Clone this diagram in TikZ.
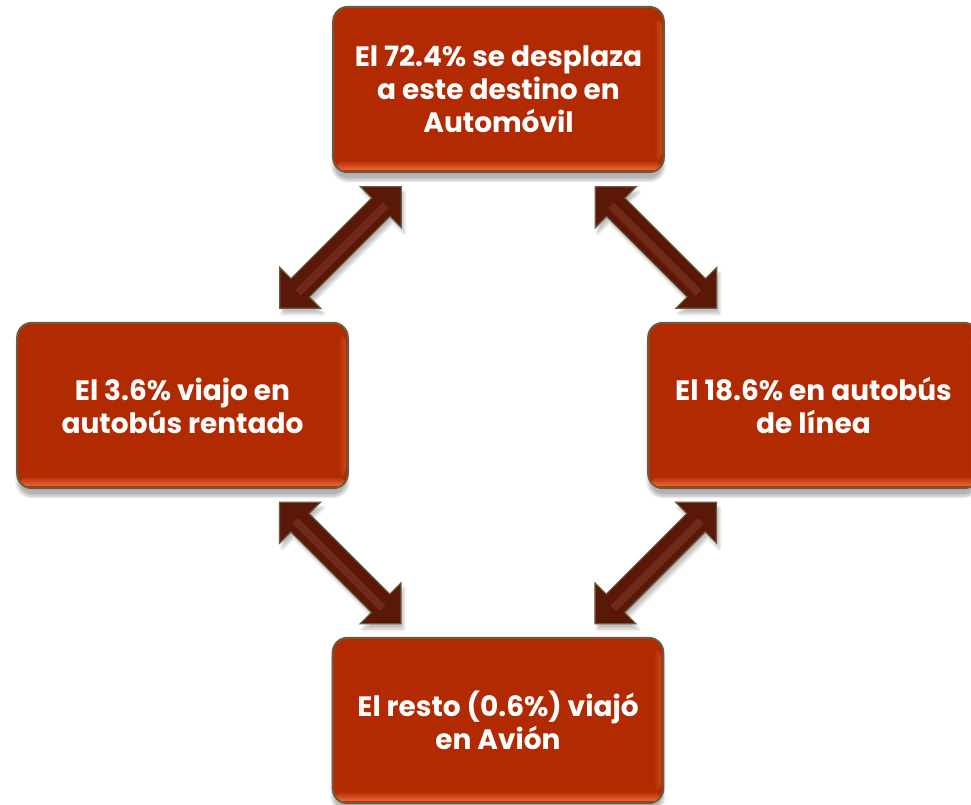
\documentclass[tikz,border=0pt]{standalone}
\usepackage{fontspec}
\setmainfont{Poppins}
\usetikzlibrary{calc,shadows.blur}
\definecolor{boxred}{HTML}{B22A02}
\definecolor{boxedge}{HTML}{6B5B3E}
\definecolor{arrbrown}{HTML}{5A1808}
\definecolor{arrlight}{HTML}{85382A}
\definecolor{glow}{HTML}{EC6A36}
\tikzset{
  modebox/.style={rounded corners=11pt,draw=boxedge,line width=1.5pt,fill=boxred,
    minimum width=248pt,minimum height=124pt,align=center,
    text=white,font=\bfseries\fontsize{21}{24.75}\selectfont,
    blur shadow={shadow xshift=0pt,shadow yshift=-6pt,shadow blur steps=8,shadow opacity=30}},
  arrowshape/.style={draw=boxedge,line width=0.9pt,fill=arrbrown,line join=miter,
    blur shadow={shadow xshift=2pt,shadow yshift=-4pt,shadow blur steps=6,shadow opacity=25}},
  dblarrow/.pic={
    \path[arrowshape] (-86,0) -- (-57,-29) -- (-57,-13) -- (57,-13) -- (57,-29)
      -- (86,0) -- (57,29) -- (57,13) -- (-57,13) -- (-57,29) -- cycle;
    \fill[arrlight,opacity=0.55] (-62,-2) rectangle (62,6);
  }
}
\begin{document}
\begin{tikzpicture}[x=0.75pt,y=-0.75pt]
\useasboundingbox (0,0) rectangle (971,804);
\node[modebox] (auto) at (498.5,89.5) {El 72.4\% se desplaza\\a este destino en\\Automóvil};
\node[modebox] (rentado) at (182.5,405.5) {El 3.6\% viajo en\\autobús rentado};
\node[modebox] (linea) at (813.5,405.5) {El 18.6\% en autobús\\de línea};
\node[modebox] (avion) at (498,720.5) {El resto (0.6\%) viajó\\en Avión};
% brillo inferior y derecho de las cajas
\foreach \b in {auto,rentado,linea,avion}{
  \shade[top color=boxred,bottom color=glow,rounded corners=5pt]
    ($(\b.south west)+(5,-13)$) rectangle ($(\b.south east)+(-5,-3)$);
  \shade[left color=boxred,right color=glow,opacity=0.45,rounded corners=5pt]
    ($(\b.north east)+(-11,14)$) rectangle ($(\b.south east)+(-3,-14)$);
}
\pic[rotate=45] at ($(auto.south west)!0.5!(rentado.north east)$) {dblarrow};
\pic[rotate=-45] at ($(auto.south east)!0.5!(linea.north west)$) {dblarrow};
\pic[rotate=-45] at ($(rentado.south east)!0.5!(avion.north west)$) {dblarrow};
\pic[rotate=45] at ($(linea.south west)!0.5!(avion.north east)$) {dblarrow};
\end{tikzpicture}
\end{document}
